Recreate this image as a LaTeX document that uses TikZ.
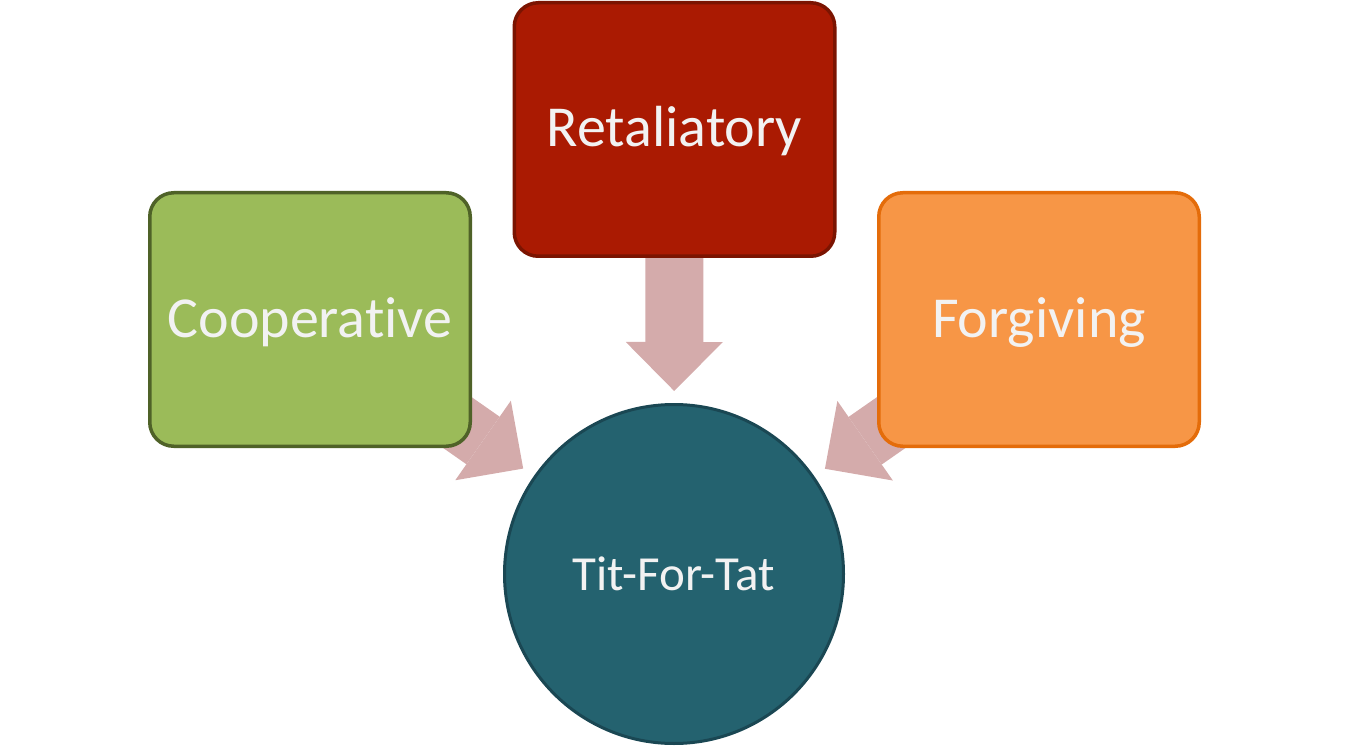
\documentclass[tikz,border=0pt]{standalone}
\usepackage{fontspec}
\setmainfont{Carlito}[Ligatures=NoCommon]
\usetikzlibrary{arrows.meta,backgrounds}
\definecolor{coopfill}{HTML}{9BBB59}
\definecolor{coopline}{HTML}{4F6228}
\definecolor{retfill}{HTML}{AA1A02}
\definecolor{retline}{HTML}{7B1401}
\definecolor{forgfill}{HTML}{F79646}
\definecolor{forgline}{HTML}{E46C0A}
\definecolor{tftfill}{HTML}{24626F}
\definecolor{tftline}{HTML}{1A4753}
\definecolor{arrowfill}{HTML}{D4ABAB}
\definecolor{textwhite}{HTML}{F2F2F2}
\begin{document}
\begin{tikzpicture}[x=1pt,y=-1pt]
	\tikzset{trait box/.style={rectangle, rounded corners=24pt, line width=3.5pt,
			minimum width=320.5pt, minimum height=253.5pt, inner sep=0pt,
			text height=37pt, text depth=2pt,
			text=textwhite, font=\fontsize{58}{68}\selectfont},
		block arrow/.style={draw=arrowfill, line width=58pt,
			-{Triangle[width=97pt, length=49pt, line width=0pt]}}}
	\useasboundingbox (0, 0) rectangle (1350, 746);
	\node [trait box, fill=coopfill, draw=coopline] (coop) at (310, 319.5) {Cooperative};
	\node [trait box, fill=retfill, draw=retline] (ret) at (674.5, 129.5) {Retaliatory};
	\node [trait box, fill=forgfill, draw=forgline] (forg) at (1039, 319.5) {Forgiving};
	\node [circle, fill=tftfill, draw=tftline, line width=3pt, minimum size=339pt,
		inner sep=0pt, text height=32pt, text depth=0pt,
		text=textwhite, font=\fontsize{49}{58}\selectfont] (tft) at (674, 574) {Tit-For-Tat};
	% arrows go behind the boxes
	\begin{pgfonlayer}{background}
		\draw [block arrow, shorten >=12pt] (ret.center) -- (tft);
		\draw [block arrow, shorten >=13pt] (coop.center) -- (tft);
		\draw [block arrow, shorten >=13pt] (forg.center) -- (tft);
	\end{pgfonlayer}
\end{tikzpicture}
\end{document}
